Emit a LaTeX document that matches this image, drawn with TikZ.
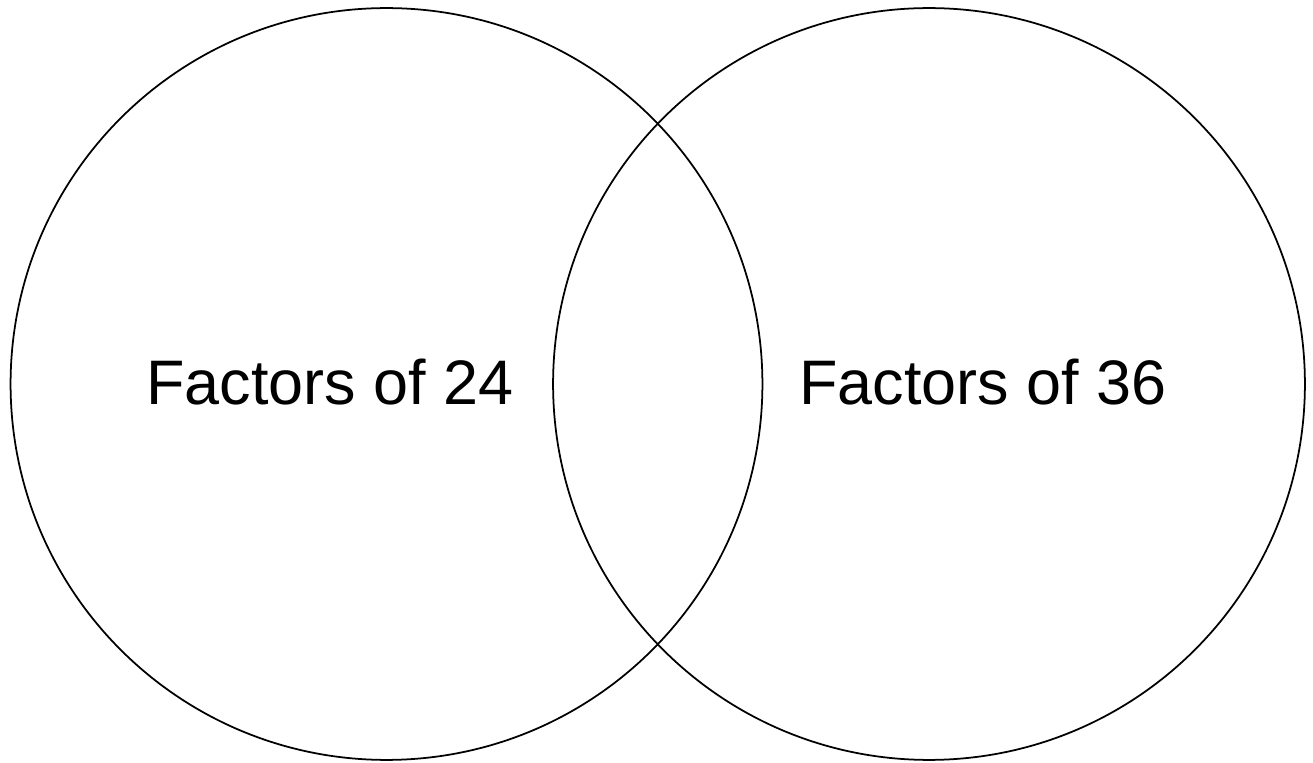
\documentclass[tikz,border=0pt]{standalone}
\usepackage{fontspec}
\setmainfont{Liberation Sans}
\begin{document}
\begin{tikzpicture}[x=0.02cm,y=-0.02cm]
\useasboundingbox (0,0) rectangle (1313,763);
\begin{scope}
\node[draw, circle, line width=1pt, inner sep=0pt, minimum size=15.04cm] (set24) at (386.5,384) {};
\node[draw, circle, line width=1pt, inner sep=0pt, minimum size=15.04cm] (set36) at (929,384) {};
\end{scope}
\begin{scope}[every node/.style={anchor=base, inner sep=0pt, font=\fontsize{35.8}{43}\selectfont}]
\node (lbl24) at (330,405) {Factors of 24};
\node (lbl36) at (983,405) {Factors of 36};
\end{scope}
\end{tikzpicture}
\end{document}
